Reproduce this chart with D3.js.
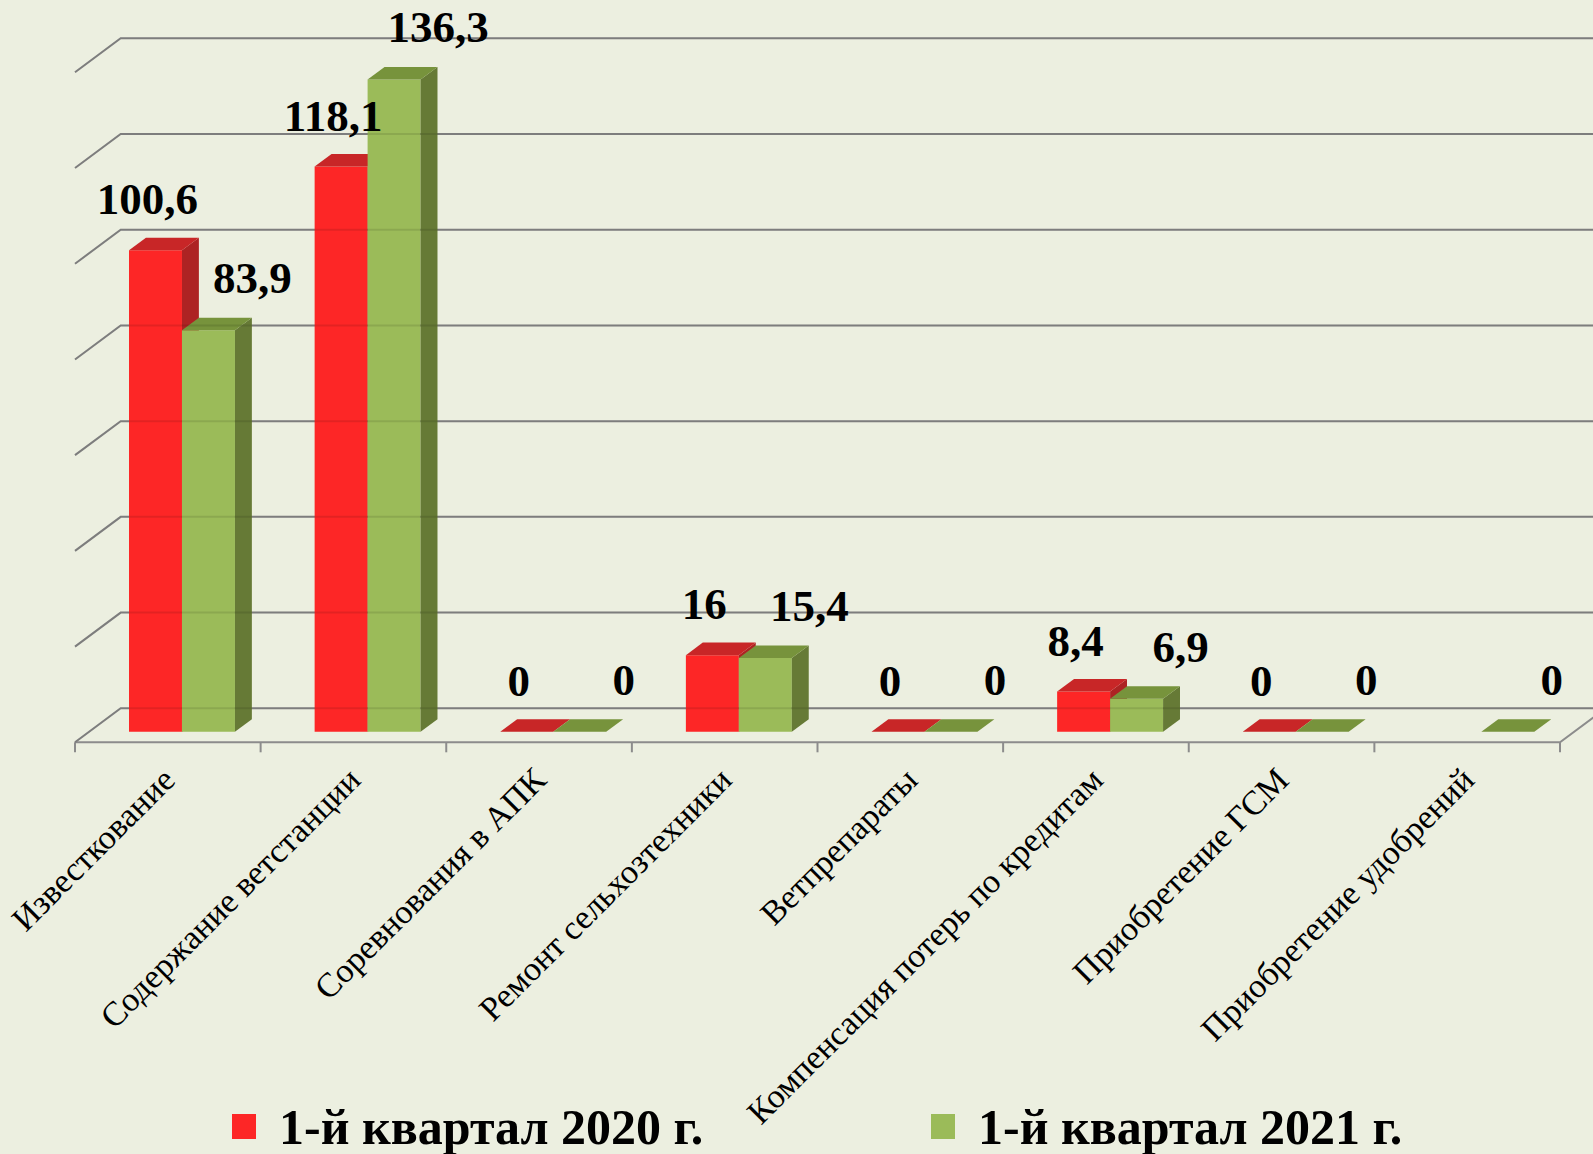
<!DOCTYPE html>
<html>
<head>
<meta charset="utf-8">
<script src="https://cdn.jsdelivr.net/npm/d3@7"></script>
<style>
  body { margin: 0; background: #ECEFE0; }
  svg { display: block; }
</style>
</head>
<body>
<div id="chart"></div>
<script>
// data
const categories = ["Известкование", "Содержание ветстанции", "Соревнования в АПК",
  "Ремонт сельхозтехники", "Ветпрепараты", "Компенсация потерь по кредитам",
  "Приобретение ГСМ", "Приобретение удобрений"];
const seriesNames = ["1-й квартал 2020 г.", "1-й квартал 2021 г."];
const values2020 = [100.6, 118.1, 0, 16, 0, 8.4, 0, null];
const values2021 = [83.9, 136.3, 0, 15.4, 0, 6.9, 0, 0];
const yTicks = [0, 20, 40, 60, 80, 100, 120, 140];

const W = 1593, H = 1154;
// floor geometry (front-left corner + depth vector of the whole floor)
const yFront = 742.3, depthX = 45.7, depthY = -34;
const f1 = 0.31, f2 = 0.68; // bar front / back depth fractions

const colors = [
  { front: "#FD2626", top: "#C82627", side: "#AD2323" },
  { front: "#9BBB59", top: "#77933C", side: "#667A36" }
];
const serif = "'Liberation Serif', 'Times New Roman', serif";

const svg = d3.select("#chart").append("svg")
  .attr("width", W).attr("height", H);

svg.append("rect").attr("width", W).attr("height", H).attr("fill", "#ECEFE0");

const x = d3.scaleBand().domain(categories).range([75, 1560]);
const inner = d3.scaleBand().domain(seriesNames).range([0, x.bandwidth()])
  .paddingInner(0).paddingOuter(0.752);
const y = d3.scaleLinear().domain([0, 140]).range([0, 670]);

function project(px, f, h) {
  return [px + f * depthX, yFront + f * depthY - h];
}

function drawGrid(g) {
  yTicks.forEach(v => {
    const a = project(75, 0, y(v)), b = project(75, 1, y(v));
    g.append("path").attr("d", `M${a}L${b}L${W + 10},${b[1]}`);
  });
}

// gridlines (side wall diagonal + back wall)
const grid = svg.append("g").attr("stroke", "#8C8C8C").attr("stroke-width", 2).attr("fill", "none");
drawGrid(grid);
// floor front edge + right edge
const fr = project(1560, 1, 0);
grid.append("path").attr("d", `M75,${yFront}L1560,${yFront}L${fr}`);
// ticks
const tickXs = categories.map(c => x(c)).concat([x.range()[1]]);
grid.selectAll("line.tick").data(tickXs).join("line")
  .attr("x1", d => d).attr("x2", d => d)
  .attr("y1", yFront).attr("y2", yFront + 10);

// bars
const bars = [];
categories.forEach((c, i) => {
  [values2020[i], values2021[i]].forEach((v, s) => {
    bars.push({ cat: c, s, v });
  });
});

const barG = svg.append("g");
bars.forEach(d => {
  if (d.v === null) return;
  const xl = x(d.cat) + inner(seriesNames[d.s]);
  const xr = xl + inner.bandwidth();
  const h = y(d.v);
  const c = colors[d.s];
  const g = barG.append("g");
  const FL0 = project(xl, f1, 0), FR0 = project(xr, f1, 0);
  const FL1 = project(xl, f1, h), FR1 = project(xr, f1, h);
  const BL1 = project(xl, f2, h), BR1 = project(xr, f2, h), BR0 = project(xr, f2, 0);
  if (h > 0) {
    g.append("polygon").attr("points", [FL0, FR0, FR1, FL1].join(" ")).attr("fill", c.front);
    g.append("polygon").attr("points", [FR0, BR0, BR1, FR1].join(" ")).attr("fill", c.side);
  }
  g.append("polygon").attr("points", [FL1, FR1, BR1, BL1].join(" ")).attr("fill", c.top);
});

// faint gridlines seen through the bars
const ghost = svg.append("g").attr("stroke", "#000").attr("stroke-opacity", 0.1)
  .attr("stroke-width", 2).attr("fill", "none");
drawGrid(ghost);

// value labels
const labelShift = [[-8, -36], [44, -37]];
svg.append("g").selectAll("text").data(bars.filter(d => d.v !== null)).join("text")
  .attr("x", d => project(x(d.cat) + inner(seriesNames[d.s]) + inner.bandwidth() / 2, f1, 0)[0] + labelShift[d.s][0])
  .attr("y", d => project(0, f1, y(d.v))[1] + labelShift[d.s][1])
  .attr("text-anchor", "middle")
  .attr("font-family", serif)
  .attr("font-weight", "bold")
  .attr("font-size", 45)
  .text(d => String(d.v).replace(".", ","));

// category labels
svg.append("g").selectAll("text").data(categories).join("text")
  .attr("transform", d => `translate(${x(d) + x.bandwidth() / 2 + 9},782) rotate(-45)`)
  .attr("text-anchor", "end")
  .attr("font-family", serif)
  .attr("font-size", 34)
  .text(d => d);

// legend
const legendX = [232, 931];
const legend = svg.append("g").selectAll("g").data(seriesNames).join("g")
  .attr("transform", (d, i) => `translate(${legendX[i]},1114)`);
legend.append("rect").attr("width", 24).attr("height", 25).attr("fill", (d, i) => colors[i].front);
legend.append("text").attr("x", 47).attr("y", 30)
  .attr("font-family", serif)
  .attr("font-weight", "bold").attr("font-size", 50)
  .text(d => d);
</script>
</body>
</html>
